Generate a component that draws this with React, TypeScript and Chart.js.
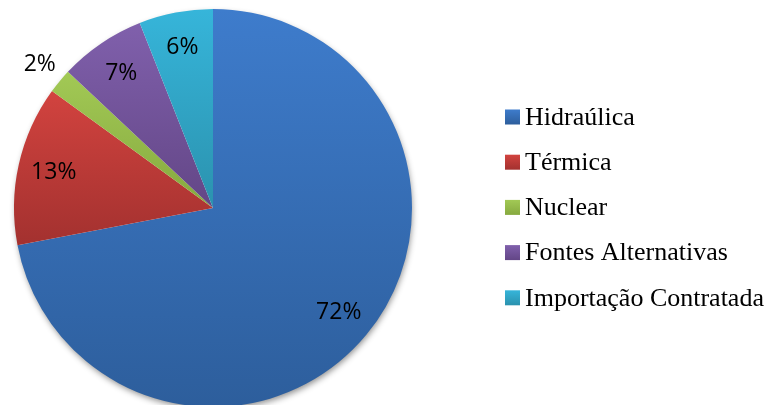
import React, { useEffect, useRef } from "react";
import { Chart, registerables } from "chart.js";

Chart.register(...registerables);

// Electricity supply mix, share of total (%)
const sources = ["Hidraúlica", "Térmica", "Nuclear", "Fontes Alternativas", "Importação Contratada"];
const shares = [72, 13, 2, 7, 6];

// Each slice is shaded from a lighter top colour to a darker bottom colour
const topColors = ["#3e7ccc", "#d2433f", "#a2c955", "#8060ac", "#36b5da"];
const bottomColors = ["#2d5e9c", "#a3312f", "#86a93f", "#634686", "#2b92ae"];

const W = 772;
const H = 405;

// Vertical extent of a pie slice, used to size its gradient
function sliceYRange(cy: number, r: number, a0: number, a1: number) {
  let yMin = cy;
  let yMax = cy;
  const pts = [a0, a1];
  const twoPi = Math.PI * 2;
  for (const k of [-Math.PI / 2, Math.PI / 2, (3 * Math.PI) / 2, -(3 * Math.PI) / 2]) {
    if (k >= a0 && k <= a1) pts.push(k);
  }
  for (const a of pts) {
    const y = cy + Math.sin(a) * r;
    yMin = Math.min(yMin, y);
    yMax = Math.max(yMax, y);
  }
  if (yMax - yMin < 1) yMax = yMin + 1;
  void twoPi;
  return [yMin, yMax];
}

const shadePlugin = {
  id: "sliceShade",
  beforeDatasetsDraw(chart: any) {
    const ctx = chart.ctx;
    const meta = chart.getDatasetMeta(0);
    const first = meta.data[0];
    if (!first) return;
    const { x, y, outerRadius } = first.getProps(["x", "y", "outerRadius"], true);
    // soft drop shadow under the pie
    ctx.save();
    ctx.beginPath();
    ctx.arc(x, y, outerRadius - 1, 0, Math.PI * 2);
    ctx.shadowColor = "rgba(0,0,0,0.45)";
    ctx.shadowBlur = 6;
    ctx.shadowOffsetX = 1;
    ctx.shadowOffsetY = 3;
    ctx.fillStyle = "#ffffff";
    ctx.fill();
    ctx.restore();

    meta.data.forEach((arc: any, i: number) => {
      const p = arc.getProps(["x", "y", "startAngle", "endAngle", "outerRadius"], true);
      const [y0, y1] = sliceYRange(p.y, p.outerRadius, p.startAngle, p.endAngle);
      const g = ctx.createLinearGradient(0, y0, 0, y1);
      g.addColorStop(0, topColors[i]);
      g.addColorStop(1, bottomColors[i]);
      arc.options.backgroundColor = g;
    });
  },
};

const labelPlugin = {
  id: "sliceLabels",
  afterDatasetsDraw(chart: any) {
    const ctx = chart.ctx;
    const meta = chart.getDatasetMeta(0);
    ctx.save();
    ctx.font = '23px "Open Sans", "Noto Sans", sans-serif';
    ctx.fillStyle = "#000000";
    ctx.textAlign = "center";
    ctx.textBaseline = "middle";
    meta.data.forEach((arc: any, i: number) => {
      const p = arc.getProps(["x", "y", "startAngle", "endAngle", "outerRadius"], true);
      const mid = (p.startAngle + p.endAngle) / 2;
      const f = shares[i] < 4 ? 1.13 : 0.82;
      const lx = p.x + Math.cos(mid) * p.outerRadius * f;
      const ly = p.y + Math.sin(mid) * p.outerRadius * f;
      ctx.fillText(`${shares[i]}%`, lx, ly);
    });
    ctx.restore();
  },
};

const legendPlugin = {
  id: "sideLegend",
  afterDraw(chart: any) {
    const ctx = chart.ctx;
    const boxX = 505;
    const textX = 525;
    const firstY = 117;
    const step = 45.2;
    const box = 15;
    ctx.save();
    ctx.font = '26px "Liberation Serif", "Times New Roman", serif';
    ctx.textAlign = "left";
    ctx.textBaseline = "middle";
    sources.forEach((name, i) => {
      const cy = firstY + i * step;
      const g = ctx.createLinearGradient(0, cy - box / 2, 0, cy + box / 2);
      g.addColorStop(0, topColors[i]);
      g.addColorStop(1, bottomColors[i]);
      ctx.fillStyle = g;
      ctx.fillRect(boxX, cy - box / 2, box, box);
      ctx.fillStyle = "#000000";
      ctx.fillText(name, textX, cy + 1);
    });
    ctx.restore();
  },
};

export default function App() {
  const canvasRef = useRef<HTMLCanvasElement | null>(null);

  useEffect(() => {
    if (!canvasRef.current) return;
    const chart = new Chart(canvasRef.current, {
      type: "pie",
      data: {
        labels: sources,
        datasets: [
          {
            data: shares,
            backgroundColor: topColors,
            borderWidth: 0,
          },
        ],
      },
      options: {
        responsive: false,
        animation: false,
        layout: { padding: { left: 14, top: 9, right: W - 412, bottom: 420 - 407 } },
        plugins: {
          legend: { display: false },
          tooltip: { enabled: false },
        },
      },
      plugins: [shadePlugin, labelPlugin, legendPlugin],
    });
    return () => chart.destroy();
  }, []);

  return (
    <div style={{ position: "fixed", left: 0, top: 0, width: W, height: H, overflow: "hidden", background: "#ffffff" }}>
      <canvas ref={canvasRef} width={W} height={420} style={{ display: "block" }} />
    </div>
  );
}
